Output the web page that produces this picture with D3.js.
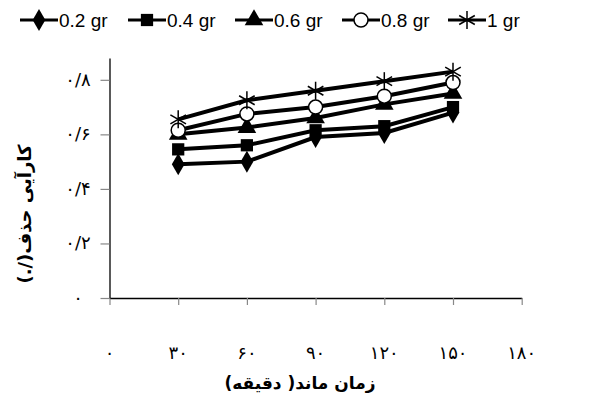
<!DOCTYPE html>
<html>
<head>
<meta charset="utf-8">
<script src="https://cdn.jsdelivr.net/npm/d3@7"></script>
<style>
  body { margin: 0; background: #fff; }
  svg { display: block; }
</style>
</head>
<body>
<div id="chart"></div>
<script>
// data
const times = [30, 60, 90, 120, 150];
const seriesNames = ['0.2 gr', '0.4 gr', '0.6 gr', '0.8 gr', '1 gr'];
const gr02 = [0.49, 0.50, 0.59, 0.605, 0.68];
const gr04 = [0.545, 0.56, 0.615, 0.63, 0.70];
const gr06 = [0.60, 0.625, 0.66, 0.71, 0.75];
const gr08 = [0.615, 0.675, 0.70, 0.74, 0.79];
const gr10 = [0.655, 0.725, 0.76, 0.795, 0.83];
const xTicks = [0, 30, 60, 90, 120, 150, 180];
const yTicks = [0, 0.2, 0.4, 0.6, 0.8];
const xTitle = 'زمان ماند( دقیقه)';
const yTitle = 'کارآیی حذف(/.)';

const width = 595, height = 400;
const markers = ['diamond', 'square', 'triangle', 'circle', 'star'];
const allSeries = [gr02, gr04, gr06, gr08, gr10];

// Persian digits, "/" as decimal point
const fa = s => String(s).replace(/\./g, '/').replace(/[0-9]/g, d => '۰۱۲۳۴۵۶۷۸۹'[+d]);

const svg = d3.select('#chart').append('svg')
  .attr('width', width)
  .attr('height', height);

const x = d3.scaleLinear().domain([0, 180]).range([109.5, 521.7]);
const y = d3.scaleLinear().domain([0, 0.88]).range([298, 58]);

// axes
const xAxis = svg.append('g')
  .attr('transform', `translate(0, ${y(0)})`)
  .call(d3.axisBottom(x).tickValues(xTicks).tickSize(7).tickSizeOuter(0).tickFormat(''));
xAxis.select('.domain').attr('stroke', '#000').attr('stroke-width', 1.3);
xAxis.selectAll('.tick line').attr('stroke', '#888').attr('stroke-width', 1.2);

const yAxis = svg.append('g')
  .attr('transform', `translate(${x(0)}, 0)`)
  .call(d3.axisLeft(y).tickValues(yTicks).tickSize(9).tickSizeOuter(0).tickFormat(''));
yAxis.select('.domain').attr('stroke', '#000').attr('stroke-width', 1.3);
yAxis.selectAll('.tick line').attr('stroke', '#888').attr('stroke-width', 1.2);

// tick labels
svg.append('g').selectAll('text')
  .data(xTicks)
  .enter()
  .append('text')
  .attr('x', d => x(d))
  .attr('y', 359)
  .attr('text-anchor', 'middle')
  .style('font-family', 'DejaVu Sans')
  .style('font-size', '18px')
  .text(d => fa(d));

svg.append('g').selectAll('text')
  .data(yTicks)
  .enter()
  .append('text')
  .attr('x', 78)
  .attr('y', d => y(d) + 6)
  .attr('text-anchor', 'middle')
  .style('font-family', 'DejaVu Sans')
  .style('font-size', '18px')
  .text(d => fa(d));

// axis titles
svg.append('text')
  .attr('x', 300)
  .attr('y', 389)
  .attr('text-anchor', 'middle')
  .attr('direction', 'rtl')
  .style('font-family', 'DejaVu Sans')
  .style('font-weight', 'bold')
  .style('font-size', '17px')
  .text(xTitle);

svg.append('text')
  .attr('transform', 'translate(31, 214) rotate(-90)')
  .attr('text-anchor', 'middle')
  .attr('direction', 'rtl')
  .style('font-family', 'DejaVu Sans')
  .style('font-weight', 'bold')
  .style('font-size', '18px')
  .text(yTitle);

// marker drawing
function drawMarker(g, type, cx, cy) {
  if (type === 'circle') {
    g.append('circle').attr('cx', cx).attr('cy', cy).attr('r', 7)
      .attr('fill', '#fff').attr('stroke', '#000').attr('stroke-width', 1.5);
  } else if (type === 'star') {
    const r = 9;
    for (let i = 0; i < 3; i++) {
      const a = Math.PI / 2 + i * Math.PI / 3;
      g.append('line')
        .attr('x1', cx - r * Math.cos(a)).attr('y1', cy - r * Math.sin(a))
        .attr('x2', cx + r * Math.cos(a)).attr('y2', cy + r * Math.sin(a))
        .attr('stroke', '#000').attr('stroke-width', 1.5);
    }
  } else {
    const sym = { diamond: d3.symbolDiamond, square: d3.symbolSquare, triangle: d3.symbolTriangle }[type];
    const size = { diamond: 140, square: 150, triangle: 150 }[type];
    g.append('path')
      .attr('transform', `translate(${cx}, ${cy})`)
      .attr('d', d3.symbol().type(sym).size(size)())
      .attr('fill', '#000');
  }
}

const line = d3.line().x((d, i) => x(times[i])).y(d => y(d));
const plot = svg.append('g');
allSeries.forEach((vals, si) => {
  const g = plot.append('g');
  g.append('path')
    .attr('d', line(vals))
    .attr('fill', 'none')
    .attr('stroke', '#000')
    .attr('stroke-width', 4);
  vals.forEach((v, i) => drawMarker(g, markers[si], x(times[i]), y(v)));
});

// legend
const legendX = [20, 128, 235, 342, 448];
const legend = svg.append('g');
seriesNames.forEach((name, i) => {
  const g = legend.append('g');
  const lx = legendX[i];
  g.append('line')
    .attr('x1', lx).attr('x2', lx + 38)
    .attr('y1', 20).attr('y2', 20)
    .attr('stroke', '#000').attr('stroke-width', 3);
  drawMarker(g, markers[i], lx + 19, 20);
  g.append('text')
    .attr('x', lx + 39)
    .attr('y', 27)
    .style('font-family', '"Liberation Sans Narrow", "Liberation Sans", Arial, sans-serif')
    .style('font-size', '19px')
    .text(name);
});
</script>
</body>
</html>
